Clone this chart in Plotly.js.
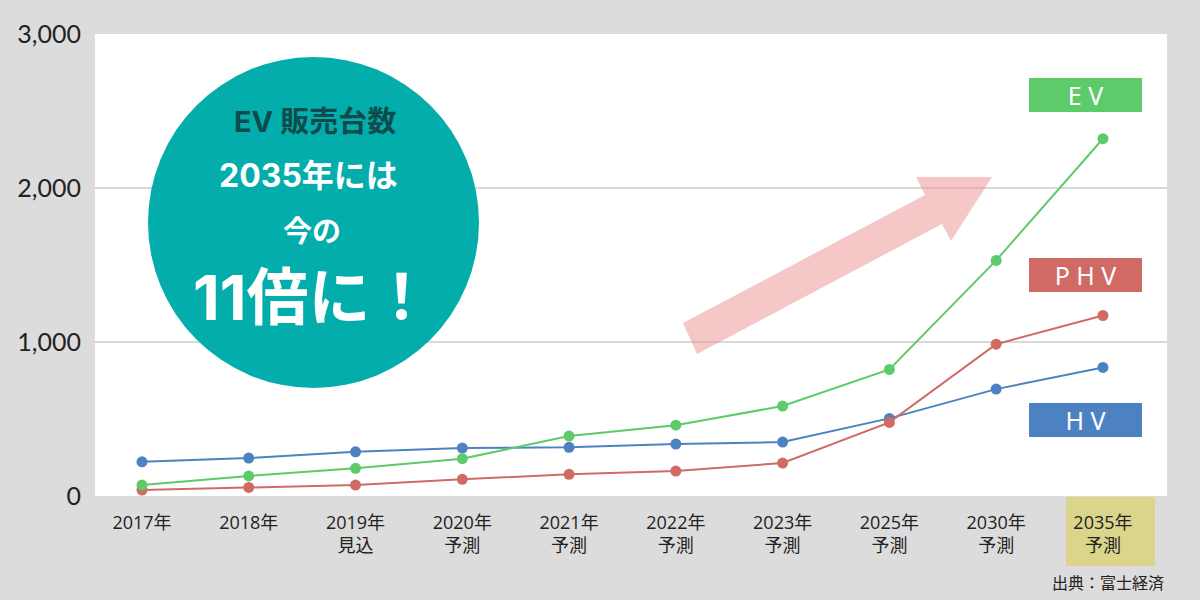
<!DOCTYPE html>
<html>
<head>
<meta charset="utf-8">
<script src="https://cdn.plot.ly/plotly-3.0.1.min.js"></script>
<style>html,body{margin:0;padding:0;background:#dcdcdc;}#chart{width:1200px;height:600px;}</style>
</head>
<body>
<div id="chart"></div>
<script>
const categories = ["2017年", "2018年", "2019年<br>見込", "2020年<br>予測", "2021年<br>予測", "2022年<br>予測", "2023年<br>予測", "2025年<br>予測", "2030年<br>予測", "2035年<br>予測"];
const evValues  = [71, 130, 180, 242, 389, 460, 584, 822, 1530, 2320];
const phvValues = [39, 56, 71, 108, 141, 162, 214, 478, 986, 1172];
const hvValues  = [222, 246, 287, 311, 316, 337, 350, 504, 694, 835];
const yTickVals = [0, 1000, 2000, 3000];
const seriesNames = ["H V", "P H V", "E V"];
const circleLines = ["EV 販売台数", "2035年には", "今の", "11倍に！"];
const sourceText = "出典：富士経済";

// layout geometry (pixels -> paper)
const L = 95, T = 34, R = 1167, B = 496;
const W = R - L, H = B - T;
const px = v => (v - L) / W;
const py = v => (B - v) / H;

const jp = '"Noto Sans CJK JP", "Noto Sans", sans-serif';
const wide = 'Inter, "Noto Sans CJK JP", sans-serif';
const cGreen = '#5dcb6a', cRed = '#cf6b64', cBlue = '#4d82c2';

function series(vals, color, name) {
  return {
    x: categories, y: vals, type: 'scatter', mode: 'lines+markers', name: name,
    line: {color: color, width: 2},
    marker: {color: color, size: 11},
    hoverinfo: 'skip'
  };
}

const data = [
  series(hvValues, cBlue, seriesNames[0]),
  series(phvValues, cRed, seriesNames[1]),
  series(evValues, cGreen, seriesNames[2])
];

const arrowPts = [[683,323],[925,195],[916,177],[992,177],[951,241],[942,224],[697,354]];
const arrowPath = 'M ' + arrowPts.map(p => px(p[0]).toFixed(5) + ',' + py(p[1]).toFixed(5)).join(' L ') + ' Z';

const shapes = [
  {type: 'rect', xref: 'paper', yref: 'paper', x0: px(1066), x1: px(1155), y0: py(566), y1: py(497),
   fillcolor: '#dad58a', line: {width: 0}, layer: 'below'},
  {type: 'circle', xref: 'paper', yref: 'paper', x0: px(148), x1: px(479), y0: py(388), y1: py(57),
   fillcolor: '#03adac', line: {width: 0}, layer: 'above'},
  {type: 'path', xref: 'paper', yref: 'paper', path: arrowPath,
   fillcolor: '#eb8f8f', opacity: 0.5, line: {width: 0}, layer: 'above'}
];

function box(text, color, ycenter) {
  return {xref: 'paper', yref: 'paper', x: px(1085.5), y: py(ycenter), xanchor: 'center', yanchor: 'middle',
    text: text, showarrow: false, bgcolor: color, width: 113, height: 34, borderpad: 0, borderwidth: 0,
    font: {family: '"Noto Sans", sans-serif', size: 25, color: '#ffffff'}};
}

const annotations = [
  box(seriesNames[2], cGreen, 95),
  box(seriesNames[1], cRed, 275),
  box(seriesNames[0], cBlue, 420),
  {xref: 'paper', yref: 'paper', x: px(315), y: py(121), xanchor: 'center', yanchor: 'middle', showarrow: false,
   text: '<b>' + circleLines[0] + '</b>', font: {family: wide, size: 29, color: '#0e4b4d'}},
  {xref: 'paper', yref: 'paper', x: px(308), y: py(175), xanchor: 'center', yanchor: 'middle', showarrow: false,
   text: '<b>' + circleLines[1] + '</b>', font: {family: wide, size: 32, color: '#ffffff'}},
  {xref: 'paper', yref: 'paper', x: px(312), y: py(229), xanchor: 'center', yanchor: 'middle', showarrow: false,
   text: '<b>' + circleLines[2] + '</b>', font: {family: jp, size: 29, color: '#ffffff'}},
  {xref: 'paper', yref: 'paper', x: px(312), y: py(297), xanchor: 'center', yanchor: 'middle', showarrow: false,
   text: '<b>' + circleLines[3] + '</b>', font: {family: wide, size: 62, color: '#ffffff'}},
  {xref: 'paper', yref: 'paper', x: px(1166), y: py(582), xanchor: 'right', yanchor: 'middle', showarrow: false,
   text: sourceText, font: {family: jp, size: 16, color: '#222222'}}
];

const layout = {
  width: 1200, height: 600,
  paper_bgcolor: '#dcdcdc', plot_bgcolor: '#ffffff',
  margin: {l: L, r: 1200 - R, t: T, b: 600 - B, pad: 0},
  showlegend: false,
  xaxis: {
    type: 'category', range: [-0.44, 9.6], showgrid: false, zeroline: false, showline: false,
    ticks: '', tickfont: {family: '"Open Sans", "Noto Sans CJK JP", sans-serif', size: 18, color: '#222222'}, ticklabelstandoff: 14,
    fixedrange: true
  },
  yaxis: {
    range: [0, 3000], tickvals: yTickVals, tickformat: ',d', showgrid: true, gridcolor: '#d9d9d9', gridwidth: 2,
    zeroline: false, showline: false, ticks: '', ticklabelstandoff: 13,
    tickfont: {family: 'Lato, "Noto Sans", sans-serif', size: 25, color: '#222222'}, fixedrange: true
  },
  shapes: shapes,
  annotations: annotations
};

Plotly.newPlot('chart', data, layout, {displayModeBar: false, staticPlot: true});
</script>
</body>
</html>
